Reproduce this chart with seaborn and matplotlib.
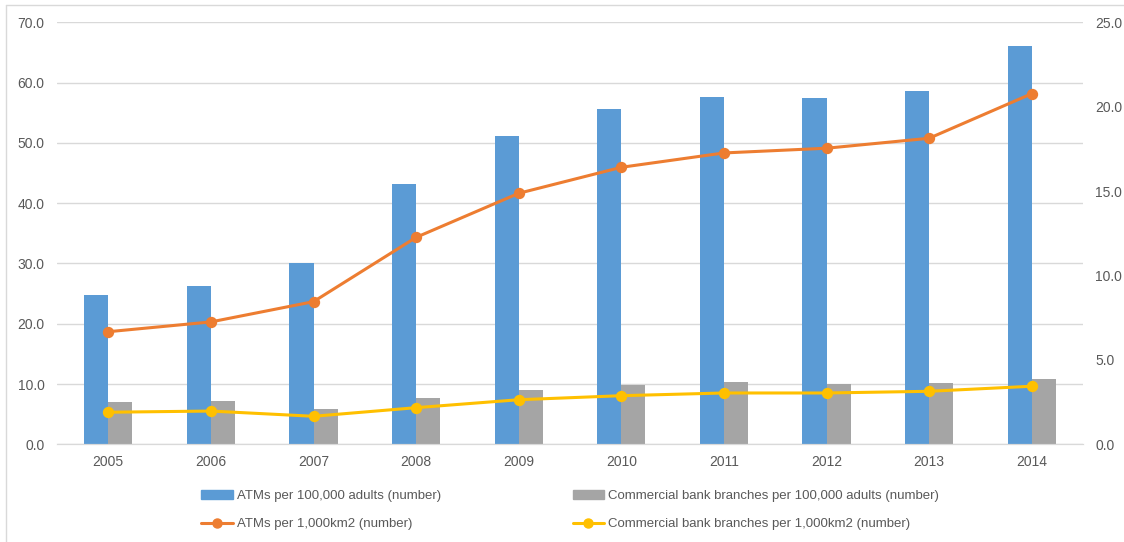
import matplotlib
matplotlib.use("Agg")
import matplotlib.pyplot as plt
from matplotlib.patches import Patch
from matplotlib.lines import Line2D
import numpy as np
import pandas as pd
import seaborn as sns

years = ['2005', '2006', '2007', '2008', '2009', '2010', '2011', '2012', '2013', '2014']
atms_adults = [24.8, 26.3, 30.1, 43.1, 51.2, 55.7, 57.6, 57.5, 58.6, 66.1]
branches_adults = [7.0, 7.2, 5.9, 7.6, 9.05, 9.8, 10.3, 9.95, 10.1, 10.9]
atms_km2 = [6.67, 7.25, 8.45, 12.26, 14.87, 16.41, 17.26, 17.54, 18.13, 20.77]
branches_km2 = [1.90, 1.97, 1.66, 2.17, 2.64, 2.88, 3.04, 3.04, 3.14, 3.44]

lbl_bar1 = 'ATMs per 100,000 adults (number)'
lbl_bar2 = 'Commercial bank branches per 100,000 adults (number)'
lbl_line1 = 'ATMs per 1,000km2 (number)'
lbl_line2 = 'Commercial bank branches per 1,000km2 (number)'

c_blue, c_gray, c_orange, c_yellow = '#5B9BD5', '#A5A5A5', '#ED7D31', '#FFC000'
txt = '#595959'

sns.set_style('white')
plt.rcParams['font.family'] = ['Liberation Sans', 'DejaVu Sans']

bars = pd.DataFrame({
    'year': years * 2,
    'value': atms_adults + branches_adults,
    'series': [lbl_bar1] * 10 + [lbl_bar2] * 10,
})
lines = pd.DataFrame({'year': years, 'atms': atms_km2, 'branches': branches_km2})

fig = plt.figure(figsize=(11.24, 5.42), dpi=100)
ax = fig.add_axes([57 / 1124, 1 - 444.3 / 542, (1083 - 57) / 1124, (444.3 - 22.3) / 542])

sns.barplot(data=bars, x='year', y='value', hue='series', order=years,
            palette=[c_blue, c_gray], width=0.47, gap=0, ax=ax, legend=False,
            saturation=1, edgecolor='none')
ax.set_ylim(0, 70)
ax.set_yticks(np.arange(0, 71, 10))
ax.set_yticklabels([f'{v:.1f}' for v in np.arange(0, 71, 10)])
ax.yaxis.grid(True, color='#D9D9D9', linewidth=1)
ax.set_axisbelow(True)
ax.set_xlabel('')
ax.set_ylabel('')
ax.set_xlim(-0.5, 9.5)

ax2 = ax.twinx()
sns.pointplot(data=lines, x='year', y='atms', order=years, color=c_orange,
              markers='o', markersize=6.5, linewidth=2.2, ax=ax2)
sns.pointplot(data=lines, x='year', y='branches', order=years, color=c_yellow,
              markers='o', markersize=6.5, linewidth=2.2, ax=ax2)
ax2.set_ylim(0, 25)
ax2.set_yticks(np.arange(0, 26, 5))
ax2.set_yticklabels([f'{v:.1f}' for v in np.arange(0, 26, 5)])
ax2.set_ylabel('')
ax2.set_xlim(-0.5, 9.5)

for a in (ax, ax2):
    for s in ('top', 'left', 'right'):
        a.spines[s].set_visible(False)
    a.spines['bottom'].set_color('#D9D9D9')
    a.tick_params(length=0, labelsize=10, colors=txt, pad=9)
ax.tick_params(axis='x', pad=8)

handles = [
    Patch(color=c_blue),
    Line2D([], [], color=c_orange, lw=2.2, marker='o', markersize=6.5),
    Patch(color=c_gray),
    Line2D([], [], color=c_yellow, lw=2.2, marker='o', markersize=6.5),
]
fig.legend(handles, [lbl_bar1, lbl_line1, lbl_bar2, lbl_line2], ncol=2,
           loc='center', bbox_to_anchor=(570 / 1124, 1 - 510 / 542), frameon=False,
           fontsize=9.5, labelcolor=txt, handlelength=2.4, handletextpad=0.3,
           columnspacing=10, labelspacing=1.2)

# chart border (left and top edges visible in the reference)
fig.add_artist(Line2D([6 / 1124, 6 / 1124], [0, 1 - 5 / 542], color='#D9D9D9', lw=1))
fig.add_artist(Line2D([6 / 1124, 1], [1 - 5 / 542, 1 - 5 / 542], color='#D9D9D9', lw=1))

fig.savefig('out.png', dpi=100)
